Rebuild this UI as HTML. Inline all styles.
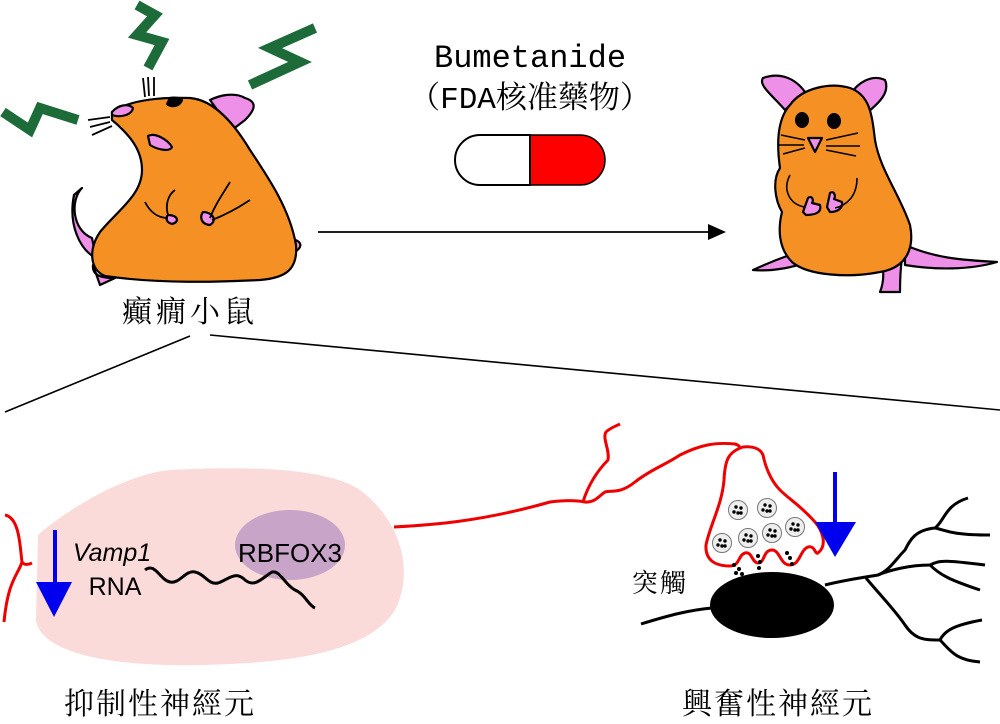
<!DOCTYPE html>
<html><head><meta charset="utf-8"><style>
html,body{margin:0;padding:0;background:#fff;}
svg{display:block;}
.cj{font-family:"Liberation Serif","Noto Serif CJK TC","Noto Serif CJK SC",serif;}
.mo{font-family:"Liberation Mono","Noto Serif CJK TC","Noto Serif CJK SC",monospace;}
.sa{font-family:"Liberation Sans",sans-serif;}
</style></head><body>
<svg width="1000" height="724" viewBox="0 0 1000 724" xmlns="http://www.w3.org/2000/svg">
<!-- lightning bolts -->
<g fill="none" stroke="#1d6b38" stroke-width="10" stroke-linejoin="miter">
<polyline points="3,112 30,130 40,108 78,120"/>
<polyline points="137,5 155,15 137,35 162,42 148,68"/>
<polyline points="315,28 270,48 300,62 250,85"/>
</g>
<!-- left hamster -->
<g stroke="#000" stroke-width="2.2" stroke-linejoin="round">
<path d="M82,188 C70,200 72,230 92,238 L96,258 C80,250 68,225 74,195 Z" fill="#ee8fe8"/>
<path d="M93,265 C92,275 100,278 115,278 L100,285 Z" fill="#ee8fe8"/>
<path d="M288,238 C300,240 305,245 295,252 Z" fill="#ee8fe8"/>
<path d="M210,100 C220,95 235,92 245,98 C258,102 255,110 245,120 L232,130 Z" fill="#ee8fe8"/>
<path d="M112,112 C130,100 160,97 190,98 C215,100 235,125 250,150 C270,180 290,210 296,245 C298,270 285,278 260,280 C220,282 160,284 105,276 C90,270 88,250 100,232 C118,210 142,195 142,170 C142,150 130,135 112,120 Z" fill="#f59124"/>
<path d="M112,112 C118,105 128,103 133,108 C132,115 120,118 112,115 Z" fill="#ee8fe8"/>
<path d="M148,136 C155,132 168,140 172,147 C170,152 158,150 150,145 Z" fill="#ee8fe8"/>
<path d="M168,215 C178,215 180,222 172,224 C165,222 166,217 168,215 Z" fill="#ee8fe8"/>
<path d="M203,212 C212,212 218,220 210,225 C200,224 200,216 203,212 Z" fill="#ee8fe8"/>
<path d="M170,98 C175,97 180,98 182,100 C180,106 172,108 167,104 Z" fill="#000"/>
</g>
<g fill="none" stroke="#000" stroke-width="1.8">
<path d="M145,202 C150,212 158,218 168,218"/><path d="M175,190 C168,195 165,205 168,215"/>
<path d="M230,182 C222,195 215,205 210,218"/><path d="M250,200 C238,208 225,215 212,220"/>
<path d="M143,78 L145,97 M148,77 L149,96 M154,77 L154,96"/>
<path d="M88,120 L110,117 M90,127 L110,122 M92,135 L112,126"/>
</g>
<!-- title -->
<text x="530" y="67" text-anchor="middle" class="mo" font-size="32">Bumetanide</text>
<text x="530" y="108" text-anchor="middle" class="mo" font-size="31">（FDA核准藥物）</text>
<!-- pill -->
<path d="M530,135 L580,135 A25,25 0 0 1 580,185 L530,185 Z" fill="#f00" stroke="#000" stroke-width="1.5"/>
<path d="M530,135 L480,135 A25,25 0 0 0 480,185 L530,185 Z" fill="#fff" stroke="#000" stroke-width="2"/>
<!-- arrow -->
<line x1="318" y1="232" x2="710" y2="232" stroke="#000" stroke-width="1.8"/>
<polygon points="726,232 708,224 708,240" fill="#000"/>
<!-- right hamster -->
<g stroke="#000" stroke-width="2.2" stroke-linejoin="round">
<path d="M753,270 C775,260 795,252 812,250 L810,262 C795,266 775,272 753,270 Z" fill="#ee8fe8"/>
<path d="M905,245 C935,258 960,260 997,262 C970,270 935,270 905,265 Z" fill="#ee8fe8"/>
<path d="M882,262 L902,258 C900,272 900,285 900,292 L880,292 C884,282 884,272 882,262 Z" fill="#ee8fe8"/>
<path d="M785,110 C772,95 758,85 763,78 C780,72 795,78 805,92 Z" fill="#ee8fe8"/>
<path d="M850,95 C858,82 872,74 885,80 C890,92 880,102 868,112 Z" fill="#ee8fe8"/>
<path d="M790,105 C802,88 830,82 850,88 C870,95 872,115 875,140 C880,170 900,195 910,225 C915,250 905,268 880,272 C850,278 808,276 792,262 C778,248 778,228 782,212 C775,200 772,180 780,168 C776,140 778,118 790,105 Z" fill="#f59124"/>
<path d="M808,138 L822,138 L815,152 Z" fill="#ee8fe8"/>
<path d="M803,212 L808,198 C812,195 814,200 812,203 L820,205 C822,212 816,215 806,215 Z" fill="#ee8fe8"/>
<path d="M827,207 L830,193 C834,190 836,196 834,199 L842,202 C843,208 838,212 830,212 Z" fill="#ee8fe8"/>
</g>
<ellipse cx="802" cy="120" rx="7" ry="8" fill="#000"/>
<ellipse cx="834" cy="121" rx="7" ry="8" fill="#000"/>
<g fill="none" stroke="#000" stroke-width="1.6">
<path d="M781,135 L805,140 M779,145 L804,145 M783,154 L805,148 M826,140 L858,133 M826,146 L860,146 M826,150 L856,156"/>
<path d="M790,175 C782,190 790,205 805,207"/><path d="M857,178 C857,195 848,205 835,208"/>
</g>
<text x="190" y="322" text-anchor="middle" class="cj" font-size="30" letter-spacing="4">癲癇小鼠</text>
<line x1="190" y1="336" x2="5" y2="412" stroke="#000" stroke-width="1.6"/>
<line x1="210" y1="335" x2="1000" y2="410" stroke="#000" stroke-width="1.6"/>
<!-- inhibitory neuron -->
<path d="M38,535 C60,515 120,475 170,470 C260,465 330,470 360,490 C400,520 415,570 395,610 C370,650 300,663 200,665 C100,667 40,650 36,620 Z" fill="#fadbd9"/>
<ellipse cx="290" cy="545" rx="55" ry="35" fill="#c8a5c8"/>
<text x="290" y="562" text-anchor="middle" class="sa" font-size="26">RBFOX3</text>
<path d="M145,570 C155,562 160,580 170,582 C180,584 185,570 195,572 C205,574 208,585 218,583 C228,580 235,570 245,580 C255,588 262,578 272,572 C280,570 285,585 295,590 C305,594 308,605 315,608" fill="none" stroke="#000" stroke-width="3"/>
<text x="112" y="561" text-anchor="middle" class="sa" font-size="25" font-style="italic">Vamp1</text>
<text x="115" y="595" text-anchor="middle" class="sa" font-size="25">RNA</text>
<line x1="55" y1="530" x2="55" y2="590" stroke="#0000ee" stroke-width="4"/>
<polygon points="36,582 72,582 54,617" fill="#0000ee"/>
<path d="M5,515 C20,518 20,548 22,562 C24,565 28,565 32,563 M22,562 C18,575 8,580 4,622" fill="none" stroke="#e00" stroke-width="3"/>
<!-- axon -->
<path d="M394,527 C430,525 480,522 550,502 C565,500 575,500 585,502 C595,503 600,495 605,492 C612,490 620,494 635,482 C650,470 665,465 680,455 C700,445 715,442 735,444 C742,446 740,450 735,452" fill="none" stroke="#e00" stroke-width="3"/>
<path d="M583,502 C588,485 598,470 608,460 C610,450 602,438 606,432 C610,428 616,426 620,424" fill="none" stroke="#e00" stroke-width="3"/>
<path d="M743,447 C728,452 725,460 724,480 C722,505 710,525 706,545 C705,560 715,566 730,566 C740,566 738,555 745,553 C752,551 752,563 758,563 C765,563 763,550 772,550 C780,550 780,565 790,565 C800,565 800,550 808,547 C815,545 815,555 818,553 C828,545 822,530 815,522 C800,505 790,500 780,490 C770,480 765,465 763,455 C760,448 752,446 743,447 Z" fill="#fff" stroke="#e00" stroke-width="3"/>
<g fill="#eee" stroke="#777" stroke-width="1">
<circle cx="738" cy="510" r="9.5"/><circle cx="767" cy="508" r="9.5"/><circle cx="795" cy="527" r="9.5"/>
<circle cx="722" cy="543" r="9.5"/><circle cx="748" cy="538" r="9.5"/><circle cx="772" cy="533" r="9.5"/>
</g>
<g fill="#000">
<circle cx="736" cy="507" r="1.7"/><circle cx="741" cy="508" r="1.7"/><circle cx="738" cy="513" r="1.7"/><circle cx="734" cy="512" r="1.7"/><circle cx="741" cy="513" r="1.7"/>
<circle cx="765" cy="505" r="1.7"/><circle cx="770" cy="506" r="1.7"/><circle cx="767" cy="511" r="1.7"/><circle cx="763" cy="510" r="1.7"/><circle cx="770" cy="511" r="1.7"/>
<circle cx="793" cy="524" r="1.7"/><circle cx="798" cy="525" r="1.7"/><circle cx="795" cy="530" r="1.7"/><circle cx="791" cy="529" r="1.7"/><circle cx="798" cy="530" r="1.7"/>
<circle cx="720" cy="540" r="1.7"/><circle cx="725" cy="541" r="1.7"/><circle cx="722" cy="546" r="1.7"/><circle cx="718" cy="545" r="1.7"/><circle cx="725" cy="546" r="1.7"/>
<circle cx="746" cy="535" r="1.7"/><circle cx="751" cy="536" r="1.7"/><circle cx="748" cy="541" r="1.7"/><circle cx="744" cy="540" r="1.7"/><circle cx="751" cy="541" r="1.7"/>
<circle cx="770" cy="530" r="1.7"/><circle cx="775" cy="531" r="1.7"/><circle cx="772" cy="536" r="1.7"/><circle cx="768" cy="535" r="1.7"/><circle cx="775" cy="536" r="1.7"/>
<circle cx="734" cy="565" r="2"/><circle cx="739" cy="569" r="2"/><circle cx="736" cy="573" r="2"/><circle cx="742" cy="574" r="2"/>
<circle cx="758" cy="556" r="2"/><circle cx="760" cy="562" r="2"/><circle cx="759" cy="568" r="2"/>
<circle cx="787" cy="553" r="2"/><circle cx="790" cy="558" r="2"/><circle cx="792" cy="564" r="2"/>
</g>
<line x1="835" y1="472" x2="835" y2="525" stroke="#0000ee" stroke-width="4"/>
<polygon points="815,522 856,522 835,557" fill="#0000ee"/>
<text x="660" y="592" text-anchor="middle" class="cj" font-size="26" letter-spacing="2">突觸</text>
<ellipse cx="772" cy="605" rx="62" ry="33" fill="#000"/>
<g fill="none" stroke="#000" stroke-width="3">
<path d="M641,624 C670,615 690,610 712,608"/>
<path d="M825,585 C845,580 860,578 878,575 C890,570 895,560 905,550 C910,540 915,530 935,528 C945,520 945,505 968,498"/>
<path d="M935,528 C945,530 950,535 990,535"/>
<path d="M878,575 C890,570 910,565 930,565 C940,560 945,560 985,565"/>
<path d="M930,565 C940,575 950,580 980,590"/>
<path d="M866,578 C880,595 895,610 905,625 C915,640 925,640 940,640 C945,630 955,625 982,620"/>
<path d="M940,640 C950,650 955,660 980,662"/>
</g>
<text x="160" y="714" text-anchor="middle" class="cj" font-size="30" letter-spacing="2">抑制性神經元</text>
<text x="778" y="714" text-anchor="middle" class="cj" font-size="30" letter-spacing="2">興奮性神經元</text>
</svg>
</body></html>
